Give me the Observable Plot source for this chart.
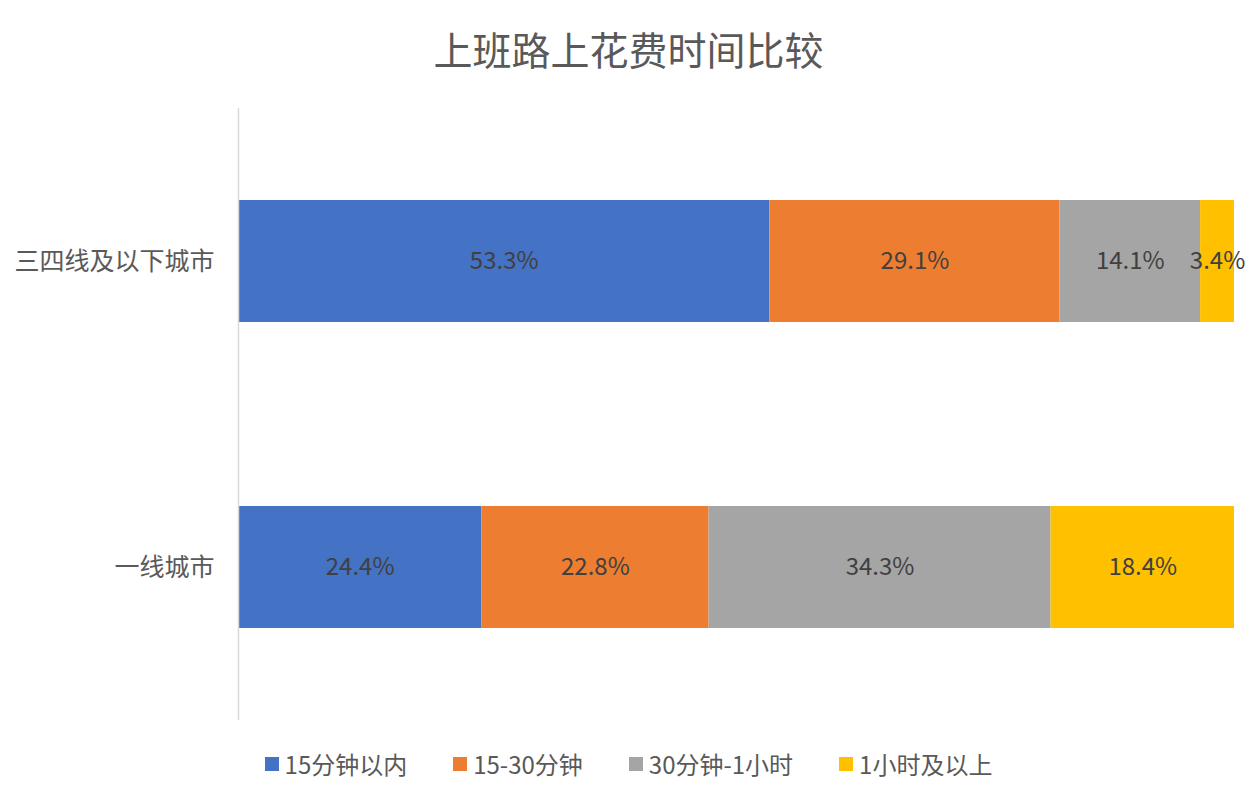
<!DOCTYPE html>
<html><head><meta charset="utf-8">
<script src="https://cdn.jsdelivr.net/npm/d3@7"></script>
<script src="https://cdn.jsdelivr.net/npm/@observablehq/plot@0.6"></script>
<style>
body{margin:0;background:#fff;font-family:"Noto Sans CJK SC","Noto Sans",sans-serif;}
#title{height:100px;line-height:96px;text-align:center;font-size:39px;color:#595959;}
#legend{display:flex;justify-content:center;gap:46px;margin-top:16px;font-size:24px;color:#595959;}
#legend span.item{display:flex;align-items:center;}
#legend span.sw{display:inline-block;width:14px;height:14px;margin-right:6px;}
</style></head>
<body>
<div id="title">上班路上花费时间比较</div>
<div id="chart"></div>
<div id="legend"></div>
<script>
const cities = ["三四线及以下城市", "一线城市"];
const categories = ["15分钟以内", "15-30分钟", "30分钟-1小时", "1小时及以上"];
const colors = ["#4472C4", "#ED7D31", "#A5A5A5", "#FFC000"];
const tier34 = [53.3, 29.1, 14.1, 3.4];
const tier1 = [24.4, 22.8, 34.3, 18.4];

const data = [];
[tier34, tier1].forEach((vals, i) => vals.forEach((v, j) => data.push({city: cities[i], category: categories[j], value: v})));

const chart = Plot.plot({
  width: 1257, height: 630,
  marginTop: 8, marginBottom: 10, marginLeft: 238, marginRight: 23,
  style: {fontFamily: '"Noto Sans CJK SC","Noto Sans",sans-serif', color: "#595959", background: "#fff"},
  x: {domain: [0, 99.9], axis: null},
  y: {domain: cities, paddingInner: 0.6, paddingOuter: 0.3, label: null},
  color: {domain: categories, range: colors},
  marks: [
    Plot.barX(data, {x: "value", y: "city", fill: "category"}),
    Plot.text(data, Plot.stackX({x: "value", y: "city", z: "category", text: d => d.value.toFixed(1) + "%", fill: "#404040", fontSize: 24})),
    Plot.ruleX([0], {stroke: "#d9d9d9", strokeWidth: 1.5}),
    Plot.axisY({tickSize: 0, tickPadding: 24, fontSize: 25, label: null, fill: "#595959"})
  ]
});
document.getElementById("chart").appendChild(chart);

const lg = document.getElementById("legend");
categories.forEach((c, i) => {
  const s = document.createElement("span"); s.className = "item";
  s.innerHTML = `<span class="sw" style="background:${colors[i]}"></span>${c}`;
  lg.appendChild(s);
});
</script>
</body></html>
